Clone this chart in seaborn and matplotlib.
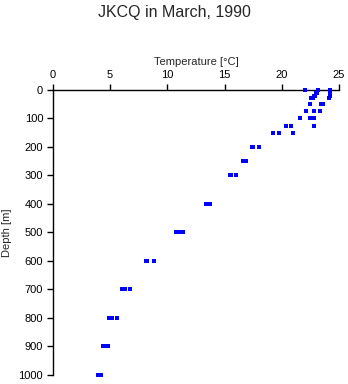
import matplotlib
matplotlib.use("Agg")
import matplotlib.pyplot as plt
import seaborn as sns
import pandas as pd

# Depth levels of the casts [m]
depth = [0, 10, 20, 30, 50, 75, 100, 125, 150, 200, 250, 300, 400, 500, 600, 700, 800, 900, 1000]

# Temperature of each cast at those depths [deg C]
temp_cast1 = [24.2, 24.2, 24.2, 24.1, 23.6, 23.3, 22.8, 22.8, 21.0, 18.0, 16.9, 16.0, 13.7, 11.4, 8.8, 6.7, 5.6, 4.8, 4.2]
temp_cast2 = [23.2, 23.0, 22.8, 22.6, 22.5, 22.8, 22.5, 20.8, 19.8, 17.4, 16.6, 15.6, 13.4, 11.0, 8.1, 6.3, 5.2, 4.4, 3.9]
temp_cast3 = [22.0, 23.1, 22.9, 22.7, 23.4, 22.1, 21.6, 20.4, 19.2, 17.5, 16.7, 15.5, 13.5, 10.8, 8.2, 6.0, 4.9, 4.6, 4.0]

frames = []
for name, t in [("1", temp_cast1), ("2", temp_cast2), ("3", temp_cast3)]:
    frames.append(pd.DataFrame({"Temperature": t, "Depth": depth, "cast": name}))
df = pd.concat(frames, ignore_index=True)

sns.set_style("ticks")
plt.rcParams["font.family"] = ["Liberation Sans", "DejaVu Sans"]

fig = plt.figure(figsize=(3.48, 3.84), dpi=100)
ax = fig.add_axes([0.152, 0.0234, 0.822, 0.7426])

sns.scatterplot(data=df, x="Temperature", y="Depth", marker="s", s=6,
                color="#0000ff", linewidth=0, ax=ax, legend=False,
                clip_on=False, zorder=3)

ax.set_xlim(0, 25)
ax.set_ylim(1000, 0)
ax.set_xticks([0, 5, 10, 15, 20, 25])
ax.set_yticks(range(0, 1001, 100))
ax.xaxis.set_ticks_position("top")
ax.xaxis.set_label_position("top")
ax.spines["bottom"].set_visible(False)
ax.spines["right"].set_visible(False)
for sp in ("top", "left"):
    ax.spines[sp].set_linewidth(1.0)
    ax.spines[sp].set_color("black")
ax.tick_params(axis="both", direction="out", length=4, width=1.0,
               labelsize=8, colors="black", pad=3)
ax.set_xlabel("Temperature [\u00b0C]", fontsize=8, labelpad=4)
ax.set_ylabel("Depth [m]", fontsize=8, labelpad=5)
fig.suptitle("JKCQ in March, 1990", fontsize=11.5, y=0.988)

fig.savefig("out.png", dpi=100)
